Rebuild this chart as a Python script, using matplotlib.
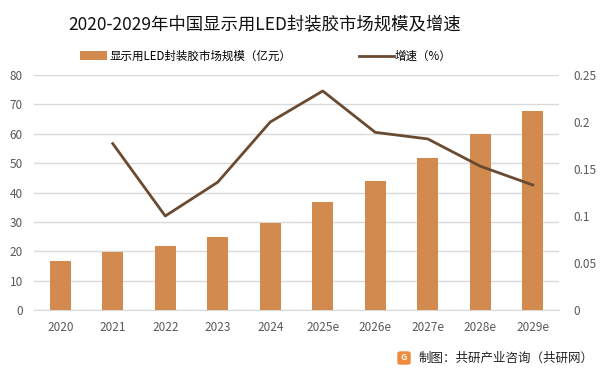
import matplotlib.pyplot as plt
from matplotlib.patches import FancyBboxPatch

plt.rcParams['font.family'] = ['Noto Sans CJK SC', 'DejaVu Sans']

# data
years = ['2020', '2021', '2022', '2023', '2024', '2025e', '2026e', '2027e', '2028e', '2029e']
market_size = [16.7, 19.7, 21.8, 24.9, 29.6, 36.8, 43.9, 51.7, 59.9, 67.7]
growth = [None, 0.177, 0.100, 0.136, 0.200, 0.233, 0.189, 0.182, 0.153, 0.133]

bar_color = '#D28A4E'
line_color = '#6A4A30'
tick_color = '#595959'

fig = plt.figure(figsize=(6.01, 3.75), dpi=100)
ax = fig.add_axes([34 / 601, 1 - 310 / 375, 525 / 601, 235 / 375])
ax2 = ax.twinx()

x = list(range(len(years)))
ax.bar(x, market_size, width=0.4, color=bar_color, zorder=3,
       label='显示用LED封装胶市场规模（亿元）')

gx = [i for i, g in zip(x, growth) if g is not None]
gy = [g for g in growth if g is not None]
ax2.plot(gx, gy, color=line_color, linewidth=2, zorder=4, label='增速（%）')

ax.set_xlim(-0.5, len(years) - 0.5)
ax.set_ylim(0, 80)
ax.set_yticks(range(0, 81, 10))
ax2.set_ylim(0, 0.25)
ax2.set_yticks([0, 0.05, 0.1, 0.15, 0.2, 0.25])
ax2.set_yticklabels(['0', '0.05', '0.1', '0.15', '0.2', '0.25'])

ax.set_xticks(x)
ax.set_xticklabels(years)
ax.yaxis.grid(True, color='#D9D9D9', linewidth=1, zorder=0)
ax.set_axisbelow(True)

for a in (ax, ax2):
    for s in a.spines.values():
        s.set_visible(False)
    a.tick_params(length=0, labelsize=8.5, labelcolor=tick_color)
ax.spines['bottom'].set_visible(True)
ax.spines['bottom'].set_color('#D9D9D9')
ax.tick_params(axis='x', pad=8)
ax.tick_params(axis='y', pad=8)
ax2.tick_params(axis='y', pad=10)

fig.text(0.44, 0.935, '2020-2029年中国显示用LED封装胶市场规模及增速',
         ha='center', va='center', fontsize=12.5, color='#111111')

h1, l1 = ax.get_legend_handles_labels()
h2, l2 = ax2.get_legend_handles_labels()
fig.legend([h1[0]], [l1[0]], loc='center left', bbox_to_anchor=(0.125, 0.85),
           frameon=False, fontsize=8.3, handlelength=2.4, handleheight=0.8,
           handletextpad=0.2, borderaxespad=0)
fig.legend([h2[0]], [l2[0]], loc='center left', bbox_to_anchor=(0.59, 0.85),
           frameon=False, fontsize=8.3, handlelength=3.0, handletextpad=0.1,
           borderaxespad=0)

# source footer with small logo
logo = FancyBboxPatch((398 / 601, 1 - 364 / 375), 12 / 601, 12 / 375,
                      boxstyle='round,pad=0,rounding_size=0.004',
                      transform=fig.transFigure, color='#F08A3C')
fig.patches.append(logo)
fig.text(404 / 601, 1 - 358 / 375, 'G', ha='center', va='center',
         fontsize=6.5, color='white', fontweight='bold')
fig.text(419 / 601, 1 - 358 / 375, '制图：共研产业咨询（共研网）',
         ha='left', va='center', fontsize=9, color='#222222')

fig.savefig('out.png', dpi=100)
